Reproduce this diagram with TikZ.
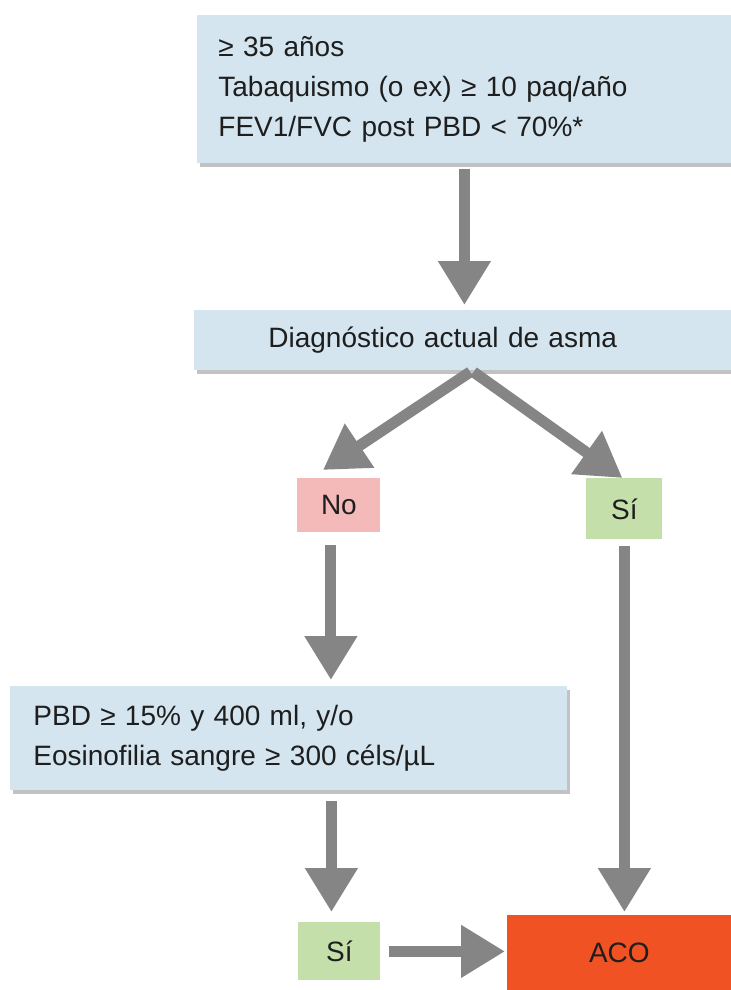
\documentclass[tikz,border=0pt]{standalone}
\usepackage{fontspec}
\setmainfont{Liberation Sans}
\usetikzlibrary{arrows.meta,shadows,calc}
\definecolor{cajaazul}{HTML}{D4E5EF}
\definecolor{cajano}{HTML}{F4B9B9}
\definecolor{cajasi}{HTML}{C5DFAB}
\definecolor{cajaaco}{HTML}{F05224}
\definecolor{gris}{HTML}{858585}
\definecolor{texto}{HTML}{1E1E1E}
\tikzset{
  caja/.style = {anchor=north west, inner sep=0pt, text=texto, font=\fontsize{14}{20}\selectfont},
  caja_b/.style = {caja, fill=cajaazul, align=left,
    drop shadow={shadow xshift=1.5pt, shadow yshift=-2pt, opacity=0.4, fill=black!60}},
  caja_no/.style = {caja, fill=cajano, align=center},
  caja_si/.style = {caja, fill=cajasi, align=center},
  caja_aco/.style = {caja, fill=cajaaco, align=center},
  flecha/.style = {draw=gris, line width=5.5pt, -{Triangle[width=25pt,length=22pt]}}
}

\begin{document}
\begin{tikzpicture}[x=0.5pt, y=-0.5pt]
	\useasboundingbox (0,0) rectangle (731,990);

	% cajas
	\node [caja_b, inner xsep=10.5pt, text width=246pt, minimum height=74pt] (crit) at (197,15)
		{≥ 35 años\\Tabaquismo (o ex) ≥ 10 paq/año\\FEV1/FVC post PBD < 70\%*};
	\node [caja_b, inner xsep=37pt, text width=194.5pt, minimum height=30pt] (diag) at (194,310)
		{Diagnóstico actual de asma};
	\node [caja_no, minimum width=41.5pt, minimum height=27pt] (no) at (297,478) {No};
	\node [caja_si, minimum width=38pt, minimum height=30.5pt] (si) at (586,478) {Sí};
	\node [caja_b, inner xsep=11.5pt, text width=255.5pt, minimum height=52pt] (pbd) at (10,686)
		{PBD ≥ 15\% y 400 ml, y/o\\Eosinofilia sangre ≥ 300 céls/µL};
	\node [caja_si, minimum width=41pt, minimum height=29pt] (si2) at (298,922) {Sí};
	\node [caja_aco, minimum width=112pt, minimum height=37.5pt] (aco) at (507,915) {ACO};

	% flechas
	\draw [flecha, shorten <=2.5pt, shorten >=2.5pt] (crit.south) -- (crit.south |- diag.north);
	\draw [flecha, shorten <=1pt] ([xshift=4.5pt]diag.south) -- ([xshift=-8pt, yshift=4pt]no.north);
	\draw [flecha, shorten <=1pt] ([xshift=4.5pt]diag.south) -- ([xshift=-1pt]si.north);
	\draw [flecha, shorten <=6pt, shorten >=3pt] ([xshift=-4pt]no.south) -- ([xshift=-4pt]no.south |- pbd.north);
	\draw [flecha, shorten <=3pt, shorten >=1.5pt] (si.south) -- (si.south |- aco.north);
	\draw [flecha, shorten <=5pt, shorten >=5pt] ([xshift=-4pt]si2.north |- pbd.south) -- ([xshift=-4pt]si2.north);
	\draw [flecha, shorten <=4pt, shorten >=1pt] (si2.east) -- (si2.east -| aco.west);
\end{tikzpicture}
\end{document}
